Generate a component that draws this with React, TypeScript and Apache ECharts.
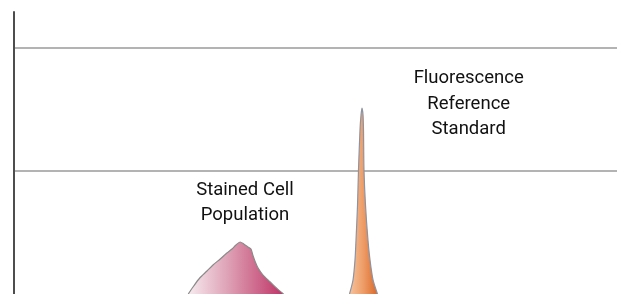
import React, { useEffect, useRef } from "react";
import * as echarts from "echarts";

// Fluorescence channel (x) vs relative cell count (y)
const stainedChannels = [289, 298, 308, 320, 330, 342, 353, 361.5, 368, 375, 381, 388, 393, 396, 400, 405, 413, 424.5, 436, 447];
const stainedCounts = [0, 6.5, 13, 18.7, 23.6, 28.5, 33.3, 36.6, 39.8, 42.3, 40.7, 38.2, 36.6, 31.7, 26.3, 20.9, 15.4, 10, 4.6, 0];

const referenceChannels = [556.4, 562.2, 565.5, 567.2, 569.7, 571.3, 573.8, 575.5, 577.1, 578.8, 579.6, 580.4, 582.9, 587, 590.4, 595.4, 602.8];
const referenceCounts = [0, 11.4, 27.6, 43.9, 72.4, 100.8, 133.3, 145.5, 151.2, 145.5, 133.3, 100.8, 72.4, 43.9, 27.6, 11.4, 0];

const gridStep = 100;
const stainedLabel = "Stained Cell\nPopulation";
const referenceLabel = "Fluorescence\nReference\nStandard";

const FONT = "Roboto, 'Liberation Sans', sans-serif";

export default function App() {
  const ref = useRef<HTMLDivElement>(null);
  useEffect(() => {
    if (!ref.current) return;
    const chart = echarts.init(ref.current, undefined, { renderer: "svg" });
    chart.setOption({
      animation: false,
      grid: { left: 14, right: 0, top: 12, bottom: 0 },
      xAxis: { type: "value", min: 0, max: 1000, show: false },
      yAxis: {
        type: "value",
        min: 0,
        max: 229.3,
        interval: gridStep,
        axisLine: { show: true, lineStyle: { color: "#4d4d4d", width: 2 } },
        axisTick: { show: false },
        axisLabel: { show: false },
        splitLine: {
          show: true,
          showMinLine: false,
          showMaxLine: false,
          lineStyle: { color: "#b3b3b3", width: 2 },
        },
      },
      series: [
        {
          type: "line",
          data: stainedChannels.map((c, i) => [c, stainedCounts[i]]),
          symbol: "none",
          smooth: 0.25,
          lineStyle: { color: "#8a8a8a", width: 1.2 },
          areaStyle: {
            opacity: 1,
            color: new echarts.graphic.LinearGradient(0, 0, 1, 0, [
              { offset: 0, color: "#f7ebef" },
              { offset: 0.45, color: "#dc9bb0" },
              { offset: 1, color: "#bf3467" },
            ]),
          },
          z: 3,
        },
        {
          type: "line",
          data: referenceChannels.map((c, i) => [c, referenceCounts[i]]),
          symbol: "none",
          smooth: 0.25,
          lineStyle: { color: "#8c94a4", width: 1.2 },
          areaStyle: {
            opacity: 1,
            color: new echarts.graphic.LinearGradient(0, 0, 1, 0, [
              { offset: 0, color: "#f6c29c" },
              { offset: 0.5, color: "#ee9c66" },
              { offset: 1, color: "#d9682a" },
            ]),
          },
          z: 3,
        },
      ],
      graphic: [
        {
          type: "text",
          x: 245,
          y: 176,
          style: {
            text: stainedLabel,
            font: `18.5px ${FONT}`,
            fill: "#111111",
            align: "center",
            verticalAlign: "top",
            lineHeight: 25,
          },
        },
        {
          type: "text",
          x: 468.7,
          y: 64.3,
          style: {
            text: referenceLabel,
            font: `18.5px ${FONT}`,
            fill: "#111111",
            align: "center",
            verticalAlign: "top",
            lineHeight: 25.5,
          },
        },
      ],
    });
    return () => chart.dispose();
  }, []);
  return <div ref={ref} style={{ width: 617, height: 294, position: "fixed", left: 0, top: 0 }} />;
}
